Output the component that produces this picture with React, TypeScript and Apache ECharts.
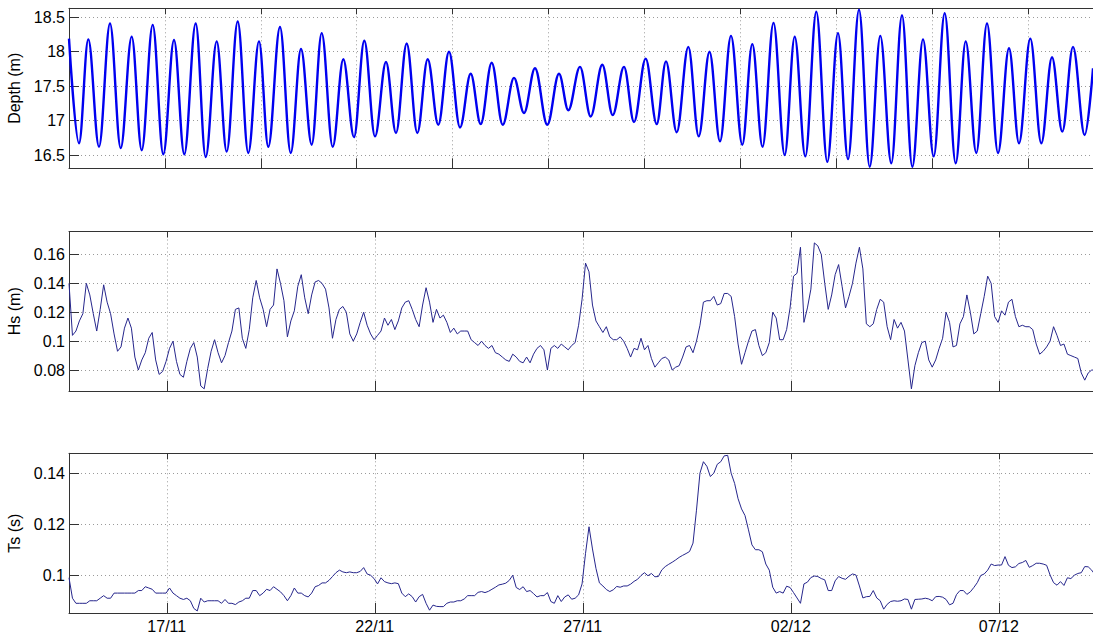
import React, { useEffect, useRef } from 'react';
import * as echarts from 'echarts';

const FONT = '"Liberation Sans", Arial, Helvetica, sans-serif';

// ---------- Depth panel: tidal highs/lows (hours since record start, metres) ----------
const depthHours = [
  0, 5.79, 11.18, 17.38, 23.76, 29.96, 36.33, 42.12, 48.5, 54.64,
  60.84, 66.8, 73.41, 79.2, 85.58, 91.37, 97.75, 103.89, 110.09, 115.47,
  122.25, 128.46, 134.42, 140.62, 146.42, 152.79, 158.93, 165.13, 171.1, 177.3,
  183.67, 189.46, 195.66, 201.81, 207.83, 213.97, 220.17, 226.55, 232.75, 238.54,
  244.91, 251.29, 257.83, 263.63, 270.0, 277.13, 283.91, 289.3, 296.07, 302.27,
  308.99, 315.02, 321.57, 327.36, 334.14, 340.52, 345.9, 352.11, 358.83, 364.85,
  371.11, 377.19, 383.56, 390.11, 395.91, 401.82, 408.19, 414.68, 420.48, 426.62,
  432.99, 439.36, 445.56, 451.36, 457.73, 463.93, 470.07, 476.44, 482.64, 488.61,
  494.81, 501.01, 507.38, 513.76, 519.55, 525.69, 531.89, 538.27, 544.64, 550.43,
  556.98, 563.35, 569.55, 575.52, 581.72, 588.5, 593.31,
];
const depthValues = [
  18.19, 16.67, 18.18, 16.62, 18.41, 16.6, 18.22, 16.57, 18.39, 16.51,
  18.17, 16.51, 18.41, 16.47, 18.15, 16.55, 18.44, 16.53, 18.15, 16.62,
  18.36, 16.53, 18.04, 16.65, 18.27, 16.62, 17.89, 16.76, 18.16, 16.77,
  17.85, 16.82, 18.12, 16.82, 17.89, 16.94, 18.0, 16.9, 17.68, 16.95,
  17.84, 16.94, 17.62, 17.11, 17.76, 16.94, 17.68, 17.15, 17.78, 17.06,
  17.81, 17.08, 17.78, 16.98, 17.9, 16.95, 17.86, 16.83, 18.07, 16.77,
  18.0, 16.7, 18.23, 16.65, 18.11, 16.62, 18.42, 16.5, 18.22, 16.48,
  18.58, 16.4, 18.27, 16.44, 18.61, 16.33, 18.23, 16.38, 18.53, 16.33,
  18.18, 16.48, 18.56, 16.38, 18.15, 16.53, 18.41, 16.53, 18.05, 16.67,
  18.19, 16.67, 17.92, 16.84, 18.07, 16.79, 17.76,
];

// ---------- Hs and Ts: 2-hourly samples starting at the record start ----------
const recordStartDay = 14.65; // day of November (14/11 ~15:36)
const sampleStepHours = 2;

const hsValues = [
  0.140, 0.104, 0.107, 0.114, 0.119, 0.140, 0.132, 0.119, 0.107, 0.122,
  0.139, 0.127, 0.119, 0.105, 0.093, 0.096, 0.109, 0.116, 0.109, 0.089,
  0.080, 0.087, 0.092, 0.102, 0.106, 0.087, 0.077, 0.079, 0.086, 0.095,
  0.100, 0.086, 0.077, 0.075, 0.086, 0.095, 0.099, 0.089, 0.069, 0.067,
  0.081, 0.093, 0.101, 0.092, 0.085, 0.090, 0.099, 0.107, 0.122, 0.123,
  0.102, 0.095, 0.108, 0.130, 0.142, 0.130, 0.122, 0.110, 0.122, 0.125,
  0.150, 0.140, 0.128, 0.103, 0.114, 0.121, 0.138, 0.146, 0.130, 0.119,
  0.132, 0.141, 0.142, 0.140, 0.136, 0.123, 0.102, 0.115, 0.122, 0.124,
  0.120, 0.105, 0.100, 0.105, 0.113, 0.120, 0.111, 0.105, 0.101, 0.104,
  0.107, 0.116, 0.111, 0.115, 0.108, 0.114, 0.123, 0.127, 0.128, 0.122,
  0.115, 0.110, 0.125, 0.137, 0.127, 0.113, 0.122, 0.116, 0.118, 0.113,
  0.106, 0.109, 0.105, 0.107, 0.107, 0.107, 0.101, 0.099, 0.097, 0.100,
  0.097, 0.095, 0.097, 0.092, 0.091, 0.089, 0.087, 0.086, 0.091, 0.089,
  0.086, 0.085, 0.089, 0.085, 0.091, 0.095, 0.097, 0.094, 0.080, 0.095,
  0.097, 0.095, 0.098, 0.096, 0.094, 0.097, 0.099, 0.111, 0.129, 0.154,
  0.148, 0.125, 0.114, 0.110, 0.106, 0.110, 0.103, 0.101, 0.101, 0.103,
  0.100, 0.095, 0.089, 0.095, 0.094, 0.102, 0.094, 0.097, 0.088, 0.082,
  0.085, 0.088, 0.089, 0.087, 0.080, 0.082, 0.083, 0.089, 0.096, 0.097,
  0.092, 0.100, 0.111, 0.127, 0.128, 0.128, 0.131, 0.125, 0.126, 0.133,
  0.133, 0.131, 0.117, 0.098, 0.084, 0.092, 0.100, 0.107, 0.108, 0.097,
  0.090, 0.092, 0.099, 0.120, 0.116, 0.101, 0.101, 0.108, 0.123, 0.145,
  0.147, 0.165, 0.113, 0.123, 0.136, 0.168, 0.166, 0.160, 0.140, 0.122,
  0.132, 0.146, 0.153, 0.138, 0.123, 0.131, 0.140, 0.154, 0.165, 0.150,
  0.112, 0.110, 0.112, 0.122, 0.129, 0.127, 0.110, 0.101, 0.115, 0.109,
  0.113, 0.107, 0.087, 0.067, 0.083, 0.092, 0.099, 0.100, 0.087, 0.082,
  0.087, 0.095, 0.102, 0.120, 0.113, 0.096, 0.097, 0.112, 0.117, 0.132,
  0.120, 0.105, 0.107, 0.119, 0.131, 0.145, 0.140, 0.117, 0.113, 0.121,
  0.118, 0.127, 0.129, 0.117, 0.110, 0.111, 0.110, 0.110, 0.108, 0.098,
  0.091, 0.093, 0.096, 0.100, 0.110, 0.104, 0.097, 0.098, 0.091, 0.090,
  0.089, 0.088, 0.078, 0.073, 0.078, 0.080, 0.080,
];

const tsValues = [
  0.099, 0.091, 0.089, 0.089, 0.089, 0.089, 0.090, 0.090, 0.090, 0.091,
  0.092, 0.091, 0.091, 0.093, 0.093, 0.093, 0.093, 0.093, 0.093, 0.093,
  0.094, 0.094, 0.0955, 0.095, 0.0945, 0.093, 0.093, 0.093, 0.093, 0.095,
  0.093, 0.092, 0.091, 0.0905, 0.091, 0.090, 0.087, 0.086, 0.091, 0.0895,
  0.090, 0.090, 0.090, 0.090, 0.089, 0.0905, 0.089, 0.089, 0.0885, 0.0895,
  0.090, 0.091, 0.091, 0.094, 0.094, 0.092, 0.093, 0.0945, 0.094, 0.0955,
  0.0945, 0.0935, 0.092, 0.090, 0.092, 0.095, 0.093, 0.093, 0.092, 0.0915,
  0.093, 0.0955, 0.096, 0.097, 0.097, 0.098, 0.0995, 0.101, 0.102, 0.1013,
  0.101, 0.1013, 0.101, 0.101, 0.1015, 0.103, 0.1005, 0.100, 0.0987, 0.0966,
  0.099, 0.0975, 0.097, 0.0967, 0.097, 0.0967, 0.093, 0.0916, 0.0927, 0.0916,
  0.0895, 0.0916, 0.0925, 0.089, 0.0863, 0.0883, 0.0878, 0.0877, 0.0877, 0.089,
  0.0895, 0.0895, 0.090, 0.090, 0.0907, 0.092, 0.092, 0.092, 0.0933, 0.0936,
  0.0932, 0.0937, 0.0945, 0.0953, 0.0962, 0.0965, 0.0969, 0.098, 0.100, 0.0952,
  0.0944, 0.0955, 0.0936, 0.094, 0.0928, 0.0915, 0.092, 0.092, 0.0932, 0.0897,
  0.089, 0.092, 0.0897, 0.0915, 0.0923, 0.0906, 0.091, 0.0923, 0.0966, 0.1086,
  0.119, 0.1103, 0.1027, 0.097, 0.0958, 0.0944, 0.0936, 0.0943, 0.0956, 0.0953,
  0.0958, 0.0958, 0.0965, 0.0976, 0.0984, 0.0999, 0.101, 0.0998, 0.1007, 0.0994,
  0.0995, 0.1021, 0.1034, 0.1043, 0.1051, 0.106, 0.107, 0.1078, 0.1085, 0.1093,
  0.1126, 0.1255, 0.140, 0.1445, 0.1427, 0.1387, 0.140, 0.1435, 0.1445, 0.1468,
  0.147, 0.140, 0.136, 0.130, 0.126, 0.1234, 0.1178, 0.1119, 0.110, 0.110,
  0.1092, 0.1044, 0.102, 0.0953, 0.093, 0.0936, 0.093, 0.0957, 0.0952, 0.0932,
  0.0911, 0.089, 0.0966, 0.0973, 0.0991, 0.0997, 0.0995, 0.0987, 0.0982, 0.094,
  0.094, 0.0978, 0.0995, 0.0988, 0.0984, 0.0996, 0.1005, 0.1001, 0.0958, 0.0911,
  0.0916, 0.0917, 0.094, 0.0911, 0.090, 0.0867, 0.0886, 0.0897, 0.090, 0.0898,
  0.090, 0.0907, 0.0905, 0.0867, 0.0905, 0.0906, 0.0907, 0.091, 0.0907, 0.090,
  0.0916, 0.0917, 0.0914, 0.0905, 0.0884, 0.089, 0.0924, 0.094, 0.094, 0.0925,
  0.0935, 0.0952, 0.0971, 0.0999, 0.1005, 0.102, 0.1044, 0.1038, 0.104, 0.104,
  0.1073, 0.1039, 0.103, 0.1033, 0.1046, 0.105, 0.1058, 0.1031, 0.1038, 0.1047,
  0.1047, 0.1044, 0.1039, 0.1001, 0.0971, 0.0961, 0.0975, 0.096, 0.099, 0.0987,
  0.100, 0.1007, 0.101, 0.1034, 0.1033, 0.102, 0.1001,
];

// ---------- Axes ----------
const dayAxisMin = 14.65;
const dayAxisMax = 39.265;
const dateTickDays = [17, 22, 27, 32, 37];
const dateTickLabels = ['17/11', '22/11', '27/11', '02/12', '07/12'];

const depthAxisMaxSeconds = 2135900;
const depthAxisTickSeconds = 200000;

const depthRange = [16.307, 18.631];
const depthTicks = [16.5, 17, 17.5, 18, 18.5];
const hsRange = [0.0655, 0.1759];
const hsTicks = [0.08, 0.1, 0.12, 0.14, 0.16];
const tsRange = [0.0852, 0.1478];
const tsTicks = [0.1, 0.12, 0.14];

const AXIS_COLOR = '#333333';
const GRID_COLOR = '#9a9a9a';
const HS_TS_COLOR = '#26268c';
const DEPTH_COLOR = '#0000f0';

const axisLine = { show: true, onZero: false, lineStyle: { color: AXIS_COLOR, width: 1 } };
const splitLine = { show: true, lineStyle: { color: GRID_COLOR, width: 1, type: [1, 3] } };

function bottomDateAxis(gridIndex: number, withLabels: boolean) {
  return {
    type: 'value',
    gridIndex,
    position: 'bottom',
    min: dayAxisMin,
    max: dayAxisMax,
    axisLine,
    axisTick: { show: true, inside: true, length: 10, customValues: dateTickDays, lineStyle: { color: AXIS_COLOR } },
    axisLabel: {
      show: withLabels,
      customValues: dateTickDays,
      margin: 5,
      fontSize: 16,
      color: '#000',
      fontFamily: FONT,
      formatter: (v: number) => {
        const i = dateTickDays.findIndex((d) => Math.abs(d - v) < 1e-6);
        return i >= 0 ? dateTickLabels[i] : '';
      },
    },
    splitLine,
  };
}

function topDateAxis(gridIndex: number) {
  return {
    type: 'value',
    gridIndex,
    position: 'top',
    min: dayAxisMin,
    max: dayAxisMax,
    axisLine,
    axisTick: { show: true, inside: true, length: 6, customValues: dateTickDays, lineStyle: { color: AXIS_COLOR } },
    axisLabel: { show: false },
    splitLine: { show: false },
  };
}

function valueYAxis(gridIndex: number, range: number[], ticks: number[], name: string) {
  return {
    type: 'value',
    gridIndex,
    min: range[0],
    max: range[1],
    name,
    nameLocation: 'middle',
    nameGap: 42,
    nameTextStyle: { fontSize: 16, color: '#000', fontFamily: FONT },
    axisLine,
    axisTick: { show: true, inside: true, length: 10, customValues: ticks, lineStyle: { color: AXIS_COLOR } },
    axisLabel: {
      show: true,
      customValues: ticks,
      margin: 4,
      fontSize: 16,
      color: '#000',
      fontFamily: FONT,
      formatter: (v: number) => String(Math.round(v * 1000) / 1000),
    },
    splitLine,
  };
}

function buildOption() {
  const stepDays = sampleStepHours / 24;
  const hsData = hsValues.map((v, i) => [recordStartDay + i * stepDays, v]);
  const tsData = tsValues.map((v, i) => [recordStartDay + i * stepDays, v]);
  const depthData = depthHours.map((h, i) => [h * 3600, depthValues[i]]);

  return {
    animation: false,
    backgroundColor: '#ffffff',
    textStyle: { fontFamily: FONT },
    grid: [
      { left: 69, right: 0, top: 8.3, height: 160, outerBoundsMode: 'none' },
      { left: 69, right: 0, top: 231.5, height: 159.5, outerBoundsMode: 'none' },
      { left: 69, right: 0, top: 453.3, height: 159.7, outerBoundsMode: 'none' },
    ],
    xAxis: [
      {
        type: 'value',
        gridIndex: 0,
        position: 'bottom',
        min: 0,
        max: depthAxisMaxSeconds,
        interval: depthAxisTickSeconds,
        axisLine,
        axisTick: { show: true, inside: true, length: 10, lineStyle: { color: AXIS_COLOR } },
        axisLabel: { show: false },
        splitLine,
      },
      bottomDateAxis(1, false),
      bottomDateAxis(2, true),
      {
        type: 'value',
        gridIndex: 0,
        position: 'top',
        min: 0,
        max: depthAxisMaxSeconds,
        interval: depthAxisTickSeconds,
        axisLine,
        axisTick: { show: true, inside: true, length: 6, lineStyle: { color: AXIS_COLOR } },
        axisLabel: { show: false },
        splitLine: { show: false },
      },
      topDateAxis(1),
      topDateAxis(2),
    ],
    yAxis: [
      valueYAxis(0, depthRange, depthTicks, 'Depth (m)'),
      valueYAxis(1, hsRange, hsTicks, 'Hs (m)'),
      valueYAxis(2, tsRange, tsTicks, 'Ts (s)'),
    ],
    series: [
      {
        name: 'Depth',
        type: 'line',
        xAxisIndex: 0,
        yAxisIndex: 0,
        data: depthData,
        showSymbol: false,
        symbol: 'none',
        smooth: 0.36,
        smoothMonotone: 'x',
        clip: true,
        lineStyle: { color: DEPTH_COLOR, width: 2.4 },
      },
      {
        name: 'Hs',
        type: 'line',
        xAxisIndex: 1,
        yAxisIndex: 1,
        data: hsData,
        showSymbol: false,
        symbol: 'none',
        clip: true,
        lineStyle: { color: HS_TS_COLOR, width: 1 },
      },
      {
        name: 'Ts',
        type: 'line',
        xAxisIndex: 2,
        yAxisIndex: 2,
        data: tsData,
        showSymbol: false,
        symbol: 'none',
        clip: true,
        lineStyle: { color: HS_TS_COLOR, width: 1 },
      },
    ],
  };
}

export default function App() {
  const ref = useRef<HTMLDivElement>(null);
  useEffect(() => {
    if (!ref.current) return;
    const chart = echarts.init(ref.current, undefined, { renderer: 'svg' });
    chart.setOption(buildOption() as any);
    return () => chart.dispose();
  }, []);
  return (
    <div
      ref={ref}
      style={{ position: 'absolute', left: 0, top: 0, width: 1093, height: 639, background: '#fff' }}
    />
  );
}
